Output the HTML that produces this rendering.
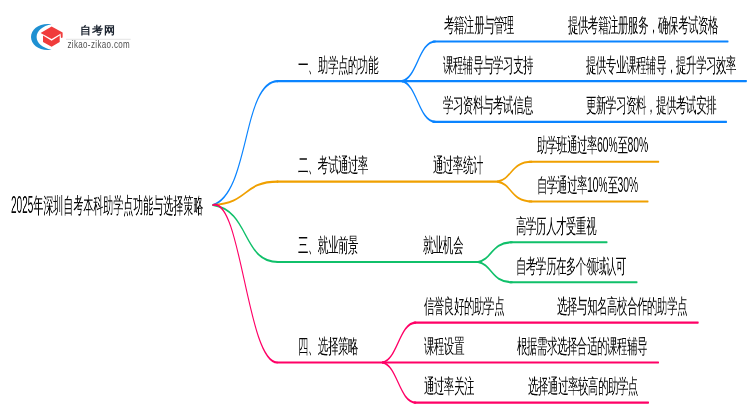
<!DOCTYPE html>
<html><head><meta charset="utf-8"><style>
html,body{margin:0;padding:0;background:#fff;width:750px;height:410px;overflow:hidden;position:relative}
body{font-family:"Liberation Sans",sans-serif}
.t{position:absolute;white-space:nowrap;color:#080808;transform-origin:0 0;line-height:20px;font-weight:500;will-change:transform}
.n{font-size:20px;transform:scaleX(0.52);letter-spacing:-0.77px}
.d{display:inline-block;transform:scaleY(1.14);transform-origin:0 85%;letter-spacing:-0.2px}
.r{font-size:22px;transform:scaleX(0.4545);line-height:22px}
svg{position:absolute;left:0;top:0}
.logo-t{position:absolute;white-space:nowrap}
</style></head><body>

<svg width="750" height="410" viewBox="0 0 750 410" fill="none" stroke-linecap="round"><g transform="scale(0.5 1)">
<path d="M426 205 C500.2 192.6 484.4 81.1 556 81.1" stroke="#0a84ff" stroke-width="2.1"/>
<path d="M554 81.1 H806" stroke="#0a84ff" stroke-width="2.1"/>
<path d="M804 81.1 C834.2 78.2 837.8 41.5 870.6 41.5" stroke="#0a84ff" stroke-width="2.1"/>
<path d="M866 41.5 H1456" stroke="#0a84ff" stroke-width="2.1"/>
<path d="M804 81.1 H1492.8" stroke="#0a84ff" stroke-width="2.1"/>
<path d="M804 81.1 C834.2 84.1 837.8 121.9 870.6 121.9" stroke="#0a84ff" stroke-width="2.1"/>
<path d="M866 121.9 H1453" stroke="#0a84ff" stroke-width="2.1"/>
<path d="M426 205 C500.2 202.7 484.4 181.6 556 181.6" stroke="#f0a000" stroke-width="2.1"/>
<path d="M554 181.6 H996" stroke="#f0a000" stroke-width="2.1"/>
<path d="M995.4 181.6 C1024.6 178.9 1021.2 161.7 1063.8 161.7" stroke="#f0a000" stroke-width="2.1"/>
<path d="M1058 161.7 H1317.4" stroke="#f0a000" stroke-width="2.1"/>
<path d="M995.4 181.6 C1024.6 184.3 1021.2 201.5 1063.8 201.5" stroke="#f0a000" stroke-width="2.1"/>
<path d="M1058 201.5 H1296" stroke="#f0a000" stroke-width="2.1"/>
<path d="M426 205 C500.2 210.7 484.4 262 556 262" stroke="#10c06a" stroke-width="2.1"/>
<path d="M554 262 H958" stroke="#10c06a" stroke-width="2.1"/>
<path d="M956 262 C985.2 259.3 981.8 242.3 1024.4 242.3" stroke="#10c06a" stroke-width="2.1"/>
<path d="M1020 242.3 H1214" stroke="#10c06a" stroke-width="2.1"/>
<path d="M956 262 C985.2 264.8 981.8 282.2 1024.4 282.2" stroke="#10c06a" stroke-width="2.1"/>
<path d="M1020 282.2 H1274" stroke="#10c06a" stroke-width="2.1"/>
<path d="M426 205 C482 196.6 494.4 362.5 554.4 362.5" stroke="#ff0066" stroke-width="2.1"/>
<path d="M554 362.5 H766" stroke="#ff0066" stroke-width="2.1"/>
<path d="M765 362.5 C795.2 359.5 798.8 322.6 831.6 322.6" stroke="#ff0066" stroke-width="2.1"/>
<path d="M828 322.6 H1396.4" stroke="#ff0066" stroke-width="2.1"/>
<path d="M765 362.5 H1317" stroke="#ff0066" stroke-width="2.1"/>
<path d="M765 362.5 C795.2 365.5 798.8 402.6 831.6 402.6" stroke="#ff0066" stroke-width="2.1"/>
<path d="M828 402.6 H1297" stroke="#ff0066" stroke-width="2.1"/>
</g></svg>
<div class="t r" style="left:10.7px;top:194.5px"><span class="d" style="letter-spacing:0;transform:scaleY(1.1)">2025</span>年深圳自考本科助学点功能与选择策略</div>
<div class="t n" style="left:297.5px;top:54.5px">一、助学点的功能</div>
<div class="t n" style="left:443.7px;top:14.9px">考籍注册与管理</div>
<div class="t n" style="left:443.0px;top:54.5px">课程辅导与学习支持</div>
<div class="t n" style="left:443.0px;top:95.3px">学习资料与考试信息</div>
<div class="t n" style="left:567.5px;top:14.9px">提供考籍注册服务，确保考试资格</div>
<div class="t n" style="left:585.8px;top:54.5px">提供专业课程辅导，提升学习效率</div>
<div class="t n" style="left:585.8px;top:95.3px">更新学习资料，提供考试安排</div>
<div class="t n" style="left:297.9px;top:155.0px">二、考试通过率</div>
<div class="t n" style="left:433.1px;top:155.0px">通过率统计</div>
<div class="t n" style="left:537.0px;top:135.1px">助学班通过率<span class="d">60%</span>至<span class="d">80%</span></div>
<div class="t n" style="left:537.0px;top:174.9px">自学通过率<span class="d">10%</span>至<span class="d">30%</span></div>
<div class="t n" style="left:298.3px;top:235.4px">三、就业前景</div>
<div class="t n" style="left:422.5px;top:235.4px">就业机会</div>
<div class="t n" style="left:516.1px;top:215.7px">高学历人才受重视</div>
<div class="t n" style="left:516.1px;top:255.6px">自考学历在多个领域认可</div>
<div class="t n" style="left:298.3px;top:335.9px">四、选择策略</div>
<div class="t n" style="left:424.0px;top:296.0px">信誉良好的助学点</div>
<div class="t n" style="left:424.0px;top:335.9px">课程设置</div>
<div class="t n" style="left:424.0px;top:376.0px">通过率关注</div>
<div class="t n" style="left:557.4px;top:296.0px">选择与知名高校合作的助学点</div>
<div class="t n" style="left:517.2px;top:335.9px">根据需求选择合适的课程辅导</div>
<div class="t n" style="left:527.5px;top:376.0px">选择通过率较高的助学点</div>
<svg width="750" height="60" style="position:absolute;left:0;top:0">
<path d="M51.5 24.3 C40 22.5 31 29 31 37 C31 45 40 51.5 51.5 49.7 C42.5 48 36.6 43 36.6 37 C36.6 31 42.5 26 51.5 24.3Z" fill="#1e90d2"/>
<path d="M40.6 33 L51.6 26.5 L62.6 32.6 L51.6 39 Z" fill="#f03c3c"/>
<path d="M60.5 33.5 L62.6 32.6 L62.6 37.5 L61 38 Z" fill="#f03c3c"/>
<path d="M43 35.5 L51.6 40.8 L59.7 35.5 L59.7 42 L51.6 46.7 L43 42 Z" fill="#f03c3c"/>
<line x1="66" y1="39.3" x2="130.7" y2="39.3" stroke="#dcdcdc" stroke-width="0.8"/>
</svg>
<div class="logo-t" style="left:80.1px;top:22.9px;font-size:11px;font-weight:900;color:#1c2430;letter-spacing:0.95px;line-height:14px">自考网</div>
<div class="logo-t" style="left:67.4px;top:39.4px;font-size:8px;color:#505050;letter-spacing:0.36px;line-height:10px;transform:scaleY(1.25);transform-origin:0 0">zikao-zikao.com</div>

</body></html>
